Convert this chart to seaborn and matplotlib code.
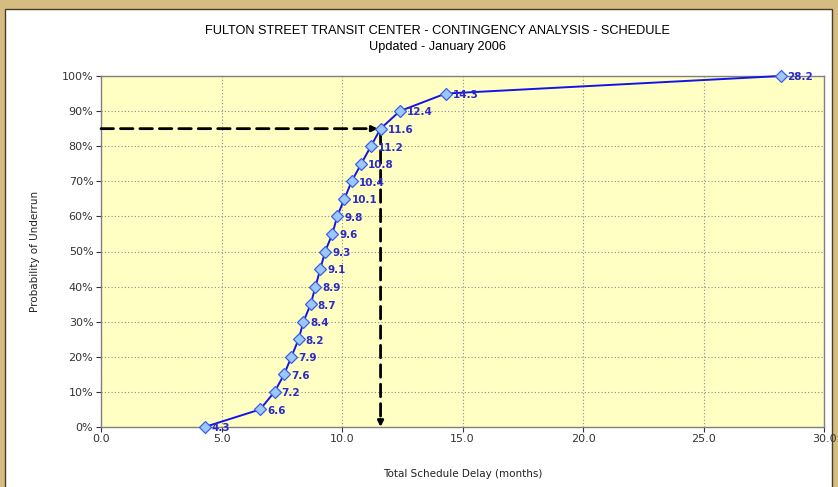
import matplotlib
matplotlib.use("Agg")
import matplotlib.pyplot as plt
from matplotlib.patches import Rectangle
from matplotlib.ticker import FuncFormatter, MultipleLocator
import seaborn as sns
import pandas as pd

# ---- data ----
delay_months = [4.3, 6.6, 7.2, 7.6, 7.9, 8.2, 8.4, 8.7, 8.9, 9.1, 9.3,
                9.6, 9.8, 10.1, 10.4, 10.8, 11.2, 11.6, 12.4, 14.3, 28.2]
probability = [0, 5, 10, 15, 20, 25, 30, 35, 40, 45, 50,
               55, 60, 65, 70, 75, 80, 85, 90, 95, 100]
point_labels = ["4.3", "6.6", "7.2", "7.6", "7.9", "8.2", "8.4", "8.7", "8.9", "9.1", "9.3",
                "9.6", "9.8", "10.1", "10.4", "10.8", "11.2", "11.6", "12.4", "14.3", "28.2"]
target_delay = 11.6
target_prob = 85

title_line1 = "FULTON STREET TRANSIT CENTER - CONTINGENCY ANALYSIS - SCHEDULE"
title_line2 = "Updated - January 2006"
x_label = "Total Schedule Delay (months)"
y_label = "Probability of Underrun"

df = pd.DataFrame({"delay": delay_months, "prob": probability})

sns.set_theme(style="white")
plt.rcParams['font.family'] = ['DejaVu Sans']

W, H = 838, 487
fig = plt.figure(figsize=(W / 100, H / 100), dpi=100)
fig.patch.set_facecolor("#D5BD82")
# white inner panel
panel = Rectangle((5 / W, -0.01), (832 - 5) / W, 1 - 9 / H + 0.01,
                  transform=fig.transFigure, facecolor="white",
                  edgecolor="#4a3d20", linewidth=1.0, zorder=-10)
fig.add_artist(panel)

ax = fig.add_axes([101 / W, 1 - 427 / H, (824 - 101) / W, (427 - 76) / H])
ax.set_zorder(5)
ax.set_facecolor("#FFFFC4")

sns.lineplot(data=df, x="delay", y="prob", ax=ax, color="#1414E6", linewidth=1.4,
             marker="D", markersize=6.5, markerfacecolor="#9CC8FF",
             markeredgecolor="#3A5FE8", markeredgewidth=0.9, sort=False, zorder=5)
for ln in ax.get_lines():
    ln.set_clip_on(False)

for xv, yv, lab in zip(delay_months, probability, point_labels):
    ax.annotate(lab, (xv, yv), xytext=(5, -1), textcoords="offset points",
                ha="left", va="center", fontsize=7.5, fontweight="bold",
                color="#2B2BC8", zorder=6, annotation_clip=False)

# dashed arrows
ax.annotate("", xy=(target_delay, target_prob), xytext=(0, target_prob),
            arrowprops=dict(arrowstyle="-|>", color="black", lw=2.0,
                            linestyle=(0, (4.5, 2.5)), mutation_scale=8,
                            shrinkA=0, shrinkB=2), zorder=4)
ax.annotate("", xy=(target_delay, 0), xytext=(target_delay, target_prob),
            arrowprops=dict(arrowstyle="-|>", color="black", lw=2.0,
                            linestyle=(0, (4.5, 2.5)), mutation_scale=8,
                            shrinkA=2, shrinkB=0), zorder=4)

ax.set_xlim(0, 30)
ax.set_ylim(0, 100)
ax.xaxis.set_major_locator(MultipleLocator(5))
ax.yaxis.set_major_locator(MultipleLocator(10))
ax.xaxis.set_major_formatter(FuncFormatter(lambda v, p: f"{v:.1f}"))
ax.yaxis.set_major_formatter(FuncFormatter(lambda v, p: f"{v:.0f}%"))
ax.grid(True, color="#8c8c8c", linestyle=(0, (1, 2)), linewidth=0.8)
ax.set_axisbelow(True)
ax.tick_params(axis="both", bottom=True, left=True, labelsize=8, colors="#333333",
               length=3.5, width=0.8, direction="out", pad=2)
ax.tick_params(axis="x", pad=1.5)
for s in ax.spines.values():
    s.set_color("#808080")
    s.set_linewidth(1.0)
    s.set_visible(True)

ax.set_xlabel(x_label, fontsize=7.5, color="#222222", labelpad=18)
ax.set_ylabel(y_label, fontsize=7.5, color="#222222", labelpad=16)

fig.text(437 / W, 1 - 31 / H, title_line1, ha="center", va="center",
         fontsize=9.2, color="#000000", family="Liberation Sans")
fig.text(437 / W, 1 - 47 / H, title_line2, ha="center", va="center",
         fontsize=9.2, color="#000000", family="Liberation Sans")

fig.savefig("out.png", dpi=100, facecolor=fig.get_facecolor())
